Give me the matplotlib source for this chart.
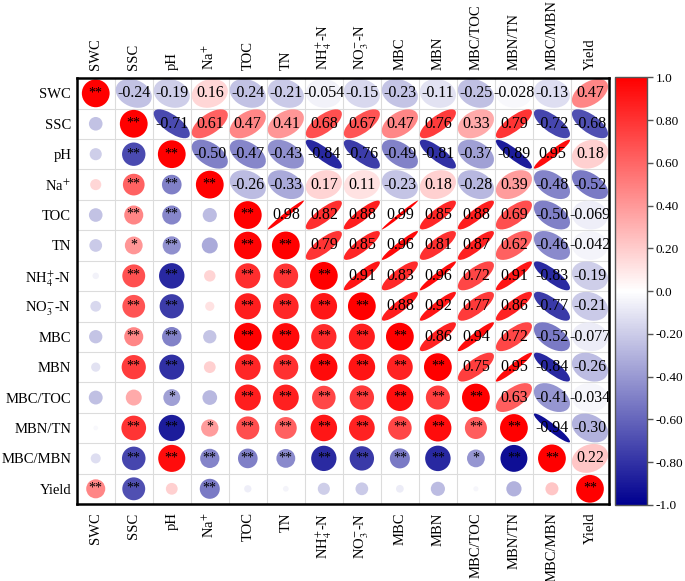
import numpy as np
import matplotlib
matplotlib.use("Agg")
import matplotlib.pyplot as plt
from matplotlib.patches import Ellipse
from matplotlib.colors import LinearSegmentedColormap, Normalize

plt.rcParams['font.family'] = ['Liberation Serif', 'DejaVu Serif']
plt.rcParams['mathtext.fontset'] = 'stix'

# variable names
labels = ['SWC', 'SSC', 'pH', r'Na$^{+}$', 'TOC', 'TN', r'NH$_4^{+}$-N',
          r'NO$_3^{-}$-N', 'MBC', 'MBN', 'MBC/TOC', 'MBN/TN', 'MBC/MBN', 'Yield']

# upper triangle of the correlation matrix, row by row (right of diagonal)
upper = [
    [-0.24, -0.19, 0.16, -0.24, -0.21, -0.054, -0.15, -0.23, -0.11, -0.25, -0.028, -0.13, 0.47],
    [-0.71, 0.61, 0.47, 0.41, 0.68, 0.67, 0.47, 0.76, 0.33, 0.79, -0.72, -0.68],
    [-0.50, -0.47, -0.43, -0.84, -0.76, -0.49, -0.81, -0.37, -0.89, 0.95, 0.18],
    [-0.26, -0.33, 0.17, 0.11, -0.23, 0.18, -0.28, 0.39, -0.48, -0.52],
    [0.98, 0.82, 0.88, 0.99, 0.85, 0.88, 0.69, -0.50, -0.069],
    [0.79, 0.85, 0.96, 0.81, 0.87, 0.62, -0.46, -0.042],
    [0.91, 0.83, 0.96, 0.72, 0.91, -0.83, -0.19],
    [0.88, 0.92, 0.77, 0.86, -0.77, -0.21],
    [0.86, 0.94, 0.72, -0.52, -0.077],
    [0.75, 0.95, -0.84, -0.26],
    [0.63, -0.41, -0.034],
    [-0.94, -0.30],
    [0.22],
]

# significance marks in lower triangle, row by row (left of diagonal)
sig = [
    [],
    [''],
    ['', '**'],
    ['', '**', '**'],
    ['', '**', '**', ''],
    ['', '*', '**', '', '**'],
    ['', '**', '**', '', '**', '**'],
    ['', '**', '**', '', '**', '**', '**'],
    ['', '**', '**', '', '**', '**', '**', '**'],
    ['', '**', '**', '', '**', '**', '**', '**', '**'],
    ['', '', '*', '', '**', '**', '**', '**', '**', '**'],
    ['', '**', '**', '*', '**', '**', '**', '**', '**', '**', '**'],
    ['', '**', '**', '**', '**', '**', '**', '**', '**', '**', '*', '**'],
    ['**', '**', '', '**', '', '', '', '', '', '', '', '', ''],
]

n = len(labels)
R = np.eye(n)
for i, row in enumerate(upper):
    for k, v in enumerate(row):
        R[i, i + 1 + k] = v
        R[i + 1 + k, i] = v

cmap = LinearSegmentedColormap.from_list('bwr2', ['#00008f', '#ffffff', '#ff0000'])
norm = Normalize(-1, 1)


def fmt(v):
    if abs(v) < 0.1:
        return '%.3f' % v
    return '%.2f' % v


fig = plt.figure(figsize=(6.85, 5.81), dpi=100)
ax = fig.add_axes([0.112, 0.1325, 0.777, 0.733])
ax.set_xlim(-0.5, n - 0.5)
ax.set_ylim(-0.5, n - 0.5)

# grid
for k in range(n + 1):
    ax.axvline(k - 0.5, color='#dcdcdc', lw=0.8, zorder=0)
    ax.axhline(k - 0.5, color='#dcdcdc', lw=0.8, zorder=0)

for i in range(n):
    y = n - 1 - i
    for j in range(n):
        r = R[i, j]
        if j > i:
            e = Ellipse((j, y), width=0.95 * np.sqrt(1 + r), height=0.95 * np.sqrt(1 - r),
                        angle=45, facecolor=cmap(norm(r)), edgecolor='none', zorder=2)
            ax.add_patch(e)
            ax.text(j, y, fmt(r), ha='center', va='center', fontsize=11.5, zorder=3)
        else:
            ax.scatter(j, y, s=400 * abs(r), color=cmap(norm(r)), edgecolors='none', zorder=2)
            s = '**' if i == j else sig[i][j]
            if s:
                ax.text(j, y + 0.02, s, ha='center', va='center', fontsize=10, zorder=3)

ax.set_xticks(range(n))
ax.set_xticklabels(labels, rotation=90, fontsize=10.5)
ax.set_yticks(range(n))
ax.set_yticklabels(labels[::-1], fontsize=10.5)
ax.tick_params(axis='x', length=0, top=True, labeltop=True, pad=6)
ax.tick_params(axis='y', length=0, pad=4)
for sp in ax.spines.values():
    sp.set_linewidth(1.8)

# colorbar
cax = fig.add_axes([0.898, 0.131, 0.047, 0.736])
sm = plt.cm.ScalarMappable(norm=norm, cmap=cmap)
cb = fig.colorbar(sm, cax=cax)
ticks = [1.0, 0.8, 0.6, 0.4, 0.2, 0.0, -0.2, -0.4, -0.6, -0.8, -1.0]
tick_labels = ['1.0', '0.80', '0.60', '0.40', '0.20', '0.0', '-0.20', '-0.40', '-0.60', '-0.80', '-1.0']
cb.set_ticks(ticks)
cb.set_ticklabels(tick_labels)
cb.ax.tick_params(labelsize=9.5, length=4, width=1, color='#555555', pad=2)
cb.outline.set_edgecolor('#555555')
cb.outline.set_linewidth(1)

fig.savefig('out.png', dpi=100)
